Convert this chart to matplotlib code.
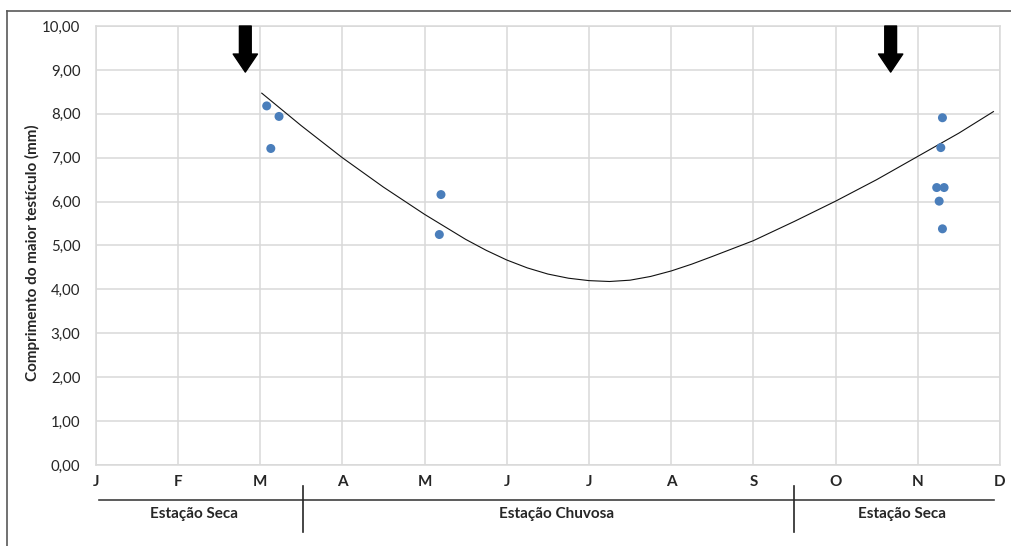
import matplotlib
matplotlib.use("Agg")
import matplotlib.pyplot as plt
from matplotlib.lines import Line2D

# ---- data ----
months = ["J", "F", "M", "A", "M", "J", "J", "A", "S", "O", "N", "D"]
yticks = [0, 1, 2, 3, 4, 5, 6, 7, 8, 9, 10]
ytick_labels = ["0,00", "1,00", "2,00", "3,00", "4,00", "5,00", "6,00", "7,00", "8,00", "9,00", "10,00"]

obs_month = [2.08, 2.23, 2.13, 4.20, 4.18, 10.30, 10.28, 10.23, 10.32, 10.26, 10.30]
obs_length = [8.18, 7.94, 7.21, 6.16, 5.25, 7.91, 7.23, 6.32, 6.32, 6.01, 5.38]

trend_month = [2.02, 2.5, 3.0, 3.5, 4.0, 4.5, 4.75, 5.0, 5.25, 5.5, 5.75, 6.0, 6.25, 6.5,
               6.75, 7.0, 7.25, 7.5, 8.0, 8.5, 9.0, 9.5, 10.0, 10.5, 10.92]
trend_length = [8.47, 7.73, 7.00, 6.33, 5.71, 5.14, 4.89, 4.67, 4.49, 4.35, 4.255, 4.20, 4.18, 4.21,
                4.295, 4.42, 4.575, 4.75, 5.11, 5.55, 6.01, 6.50, 7.03, 7.56, 8.05]

arrow_month = [1.82, 9.67]

season_names = ["Estação Seca", "Estação Chuvosa", "Estação Seca"]
season_label_x = [1.19, 5.61, 9.81]
season_bounds = [0.04, 2.52, 8.49, 10.93]

# ---- figure ----
plt.rcParams['font.family'] = ['Lato', 'DejaVu Sans']
W, H = 1011, 546
fig = plt.figure(figsize=(W / 100, H / 100), dpi=100)
ax = fig.add_axes([95.7 / W, 1 - 465 / H, (1000 - 95.7) / W, (465 - 26) / H])

grid_c = "#d9d9d9"
txt_c = "#262626"
ax.set_xlim(0, 11)
ax.set_ylim(0, 10)
ax.set_xticks(range(len(months)))
ax.set_xticklabels(months, fontweight="bold", fontsize=11, color=txt_c)
ax.set_yticks(yticks)
ax.set_yticklabels(ytick_labels, fontsize=10.8, color=txt_c)
ax.tick_params(axis="both", length=0)
ax.tick_params(axis="y", pad=11)
ax.tick_params(axis="x", pad=7)
ax.grid(True, color=grid_c, linewidth=1.1)
ax.set_axisbelow(True)
for s in ax.spines.values():
    s.set_color(grid_c)
    s.set_linewidth(1.1)

ax.set_ylabel("Comprimento do maior testículo (mm)", fontweight="bold", fontsize=11, color=txt_c)
ax.yaxis.set_label_coords(-0.0616, 0.484)

ax.plot(trend_month, trend_length, color="#111111", linewidth=0.8, zorder=3)
ax.scatter(obs_month, obs_length, s=42, color="#4a7ebb", edgecolors="none", zorder=4)

for xm in arrow_month:
    ax.annotate("", xy=(xm, 8.95), xytext=(xm, 10.0),
                arrowprops=dict(arrowstyle="simple,head_length=1.3,head_width=1.75,tail_width=0.85",
                                color="black", shrinkA=0, shrinkB=0),
                annotation_clip=False, zorder=5)

# season bracket
tr = ax.get_xaxis_transform()
ax.add_line(Line2D([season_bounds[0], season_bounds[-1]], [-0.0797, -0.0797], transform=tr,
                   color="#404040", linewidth=1.2, clip_on=False))
for b in season_bounds[1:-1]:
    ax.add_line(Line2D([b, b], [-0.0478, -0.1526], transform=tr,
                       color=txt_c, linewidth=1.2, clip_on=False))
for name, xl in zip(season_names, season_label_x):
    ax.text(xl, -0.1116, name, transform=tr, ha="center", va="center",
            fontweight="bold", fontsize=11, color=txt_c)

# outer frame (top and left)
fig.add_artist(Line2D([7 / W, 1.0], [1 - 11 / H, 1 - 11 / H], transform=fig.transFigure,
                      color="#595959", linewidth=1.2))
fig.add_artist(Line2D([7 / W, 7 / W], [1 - 11 / H, 0], transform=fig.transFigure,
                      color="#595959", linewidth=1.2))

fig.savefig("out.png", dpi=100)
